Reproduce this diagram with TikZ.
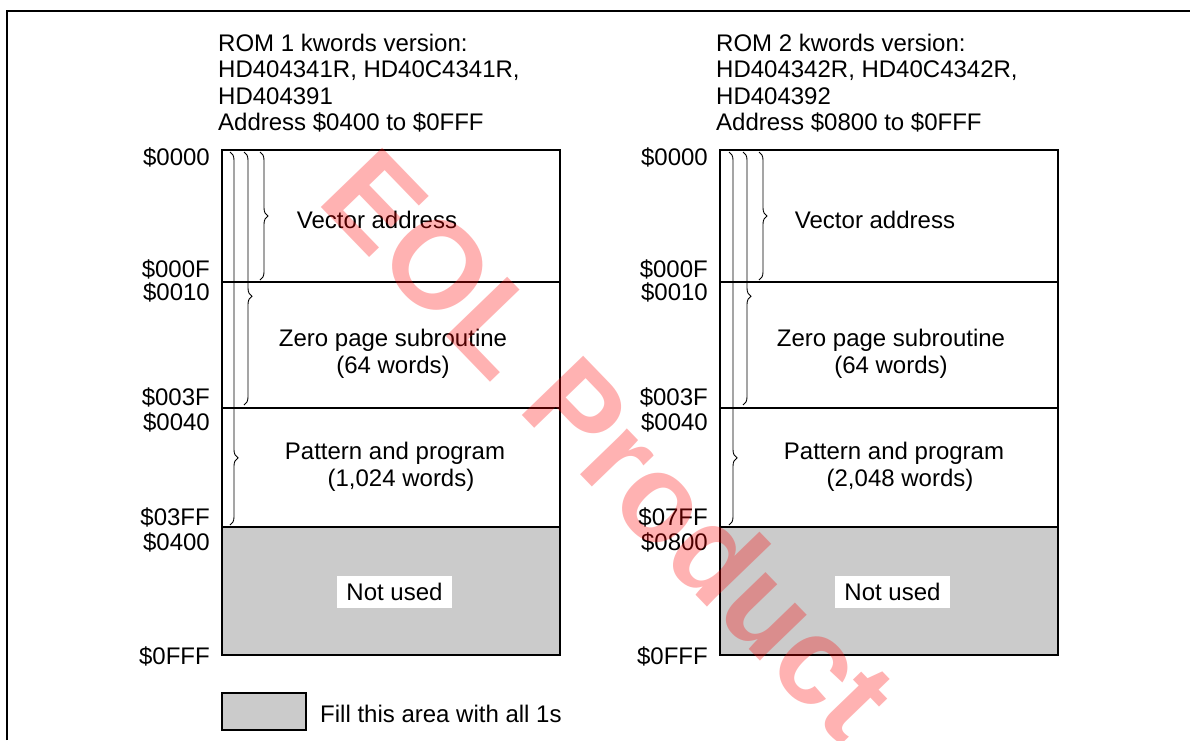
\documentclass[tikz,border=0pt]{standalone}
\usepackage{fontspec}
\setmainfont{Liberation Sans}
\usepackage{xcolor}
\usepackage{tikz}
\usetikzlibrary{positioning,decorations.pathreplacing}

\definecolor{unusedgray}{RGB}{203,203,203}

\begin{document}
\begin{tikzpicture}[
    x=1pt, y=-1pt,
    every node/.style={font=\fontsize{24}{26.5}\selectfont},
    seg/.style={rectangle, draw, line width=1.1pt, minimum width=338pt, outer sep=0pt, inner sep=0pt},
    unused/.style={seg, fill=unusedgray},
    addr/.style={anchor=east, inner sep=0pt},
    lbl/.style={align=center, inner sep=0pt},
    tag/.style={fill=white, minimum width=115pt, minimum height=32pt, inner sep=0pt},
    brc/.style={decorate, decoration={brace, amplitude=8pt, aspect=#1}, line width=0.9pt},
    wmark/.style={font=\fontsize{124}{124}\selectfont\bfseries, text=red, text opacity=0.3, rotate=-46, inner sep=0pt}
]
\useasboundingbox (0,0) rectangle (1190,740);

% Frame
\draw[line width=1.4pt] (7,740) -- (7,11) -- (1190,11);

% Headers
\node[anchor=north west, align=left, inner sep=0pt] (headL) at (218,33.7)
    {ROM 1 kwords version:\\HD404341R, HD40C4341R,\\HD404391\\Address \$0400 to \$0FFF};
\node[anchor=north west, align=left, inner sep=0pt] (headR) at (716,33.7)
    {ROM 2 kwords version:\\HD404342R, HD40C4342R,\\HD404392\\Address \$0800 to \$0FFF};

% Left map
\node[seg, minimum height=132pt, anchor=north west] (vecL) at (222,150) {};
\node[seg, minimum height=126pt, below=0pt of vecL] (zeroL) {};
\node[seg, minimum height=119pt, below=0pt of zeroL] (patL) {};
\node[unused, minimum height=128pt, below=0pt of patL] (freeL) {};

\node[lbl] (vecLtxt) at (377,219.5) {Vector address};
\node[lbl] (zeroLtxt) at (393,354) {Zero page subroutine\\(64 words)};
\node[lbl] (patLtxt) at (395,467) {Pattern and program\\\hspace*{12pt}(1,024 words)};
\node[tag] (freeLtxt) at (394.5,592) {Not used};

% Right map
\node[seg, minimum height=132pt, anchor=north west] (vecR) at (720,150) {};
\node[seg, minimum height=126pt, below=0pt of vecR] (zeroR) {};
\node[seg, minimum height=119pt, below=0pt of zeroR] (patR) {};
\node[unused, minimum height=128pt, below=0pt of patR] (freeR) {};

\node[lbl] (vecRtxt) at (875,219.5) {Vector address};
\node[lbl] (zeroRtxt) at (891,354) {Zero page subroutine\\(64 words)};
\node[lbl] (patRtxt) at (894,467) {Pattern and program\\\hspace*{12pt}(2,048 words)};
\node[tag] (freeRtxt) at (892.5,592) {Not used};

% Addresses
\node[addr] (aL0) at (210,157.5) {\$0000};
\node[addr] (aL1) at (210,269) {\$000F};
\node[addr] (aL2) at (210,292.5) {\$0010};
\node[addr] (aL3) at (210,397.5) {\$003F};
\node[addr] (aL4) at (210,422) {\$0040};
\node[addr] (aL5) at (210,517) {\$03FF};
\node[addr] (aL6) at (210,542) {\$0400};
\node[addr] (aL7) at (210,656) {\$0FFF};

\node[addr] (aR0) at (708,157.5) {\$0000};
\node[addr] (aR1) at (708,269) {\$000F};
\node[addr] (aR2) at (708,292.5) {\$0010};
\node[addr] (aR3) at (708,397.5) {\$003F};
\node[addr] (aR4) at (708,422) {\$0040};
\node[addr] (aR5) at (708,517) {\$07FF};
\node[addr] (aR6) at (708,542) {\$0800};
\node[addr] (aR7) at (708,656) {\$0FFF};

% Braces
\draw[brc=0.5] (260,152) -- (260,280);
\draw[brc=0.57] (244,152) -- (244,405);
\draw[brc=0.82] (230,152) -- (230,525);
\draw[brc=0.5] (759,152) -- (759,280);
\draw[brc=0.57] (743,152) -- (743,405);
\draw[brc=0.82] (729,152) -- (729,525);

% Legend
\node[seg, fill=unusedgray, minimum width=84pt, minimum height=37pt, anchor=north west] (key) at (222,693) {};
\node[inner sep=0pt, right=14pt of key, yshift=-2.5pt] (keytxt) {Fill this area with all 1s};

% Watermark
\node[wmark] (eol) at (611,443) {EOL Product};

\end{tikzpicture}
\end{document}
